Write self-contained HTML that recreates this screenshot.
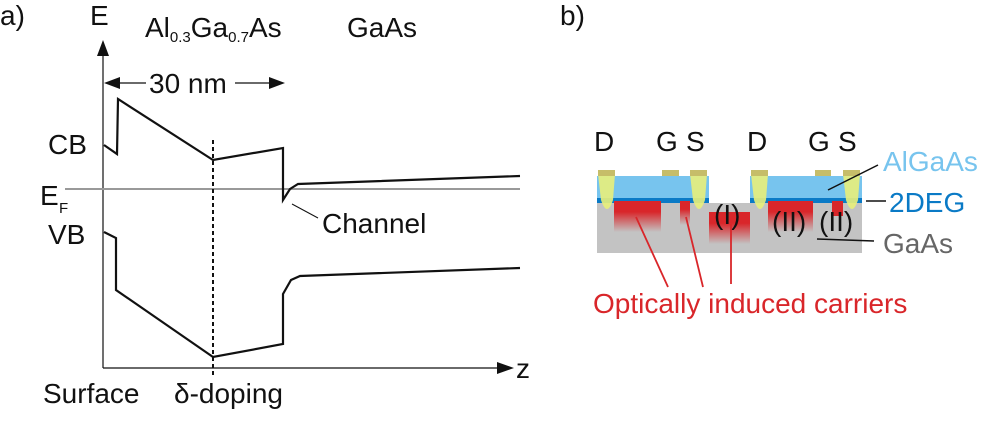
<!DOCTYPE html>
<html><head><meta charset="utf-8"><style>
html,body{margin:0;padding:0;background:#fff;}
svg{display:block;font-family:"Liberation Sans",sans-serif;}
</style></head><body>
<svg width="984" height="436" viewBox="0 0 984 436" xmlns="http://www.w3.org/2000/svg">
<defs>
<linearGradient id="rg" x1="0" y1="0" x2="0" y2="1">
<stop offset="0" stop-color="#d9262a"/><stop offset="0.35" stop-color="#d9262a"/><stop offset="1" stop-color="#d9262a" stop-opacity="0"/>
</linearGradient>
</defs>
<g font-size="28" fill="#111">
<text x="0" y="25">a)</text>
<text x="560" y="25">b)</text>
</g>
<line x1="103" y1="50" x2="103" y2="368" stroke="#111" stroke-width="1.2"/>
<polygon points="103,40 97,56 109,56" fill="#111"/>
<line x1="103" y1="368" x2="502" y2="368" stroke="#111" stroke-width="1.2"/>
<polygon points="514,368 497,362 497,374" fill="#111"/>
<g font-size="28" fill="#111">
<text x="516" y="378">z</text>
<text x="90" y="25">E</text>
<text x="145" y="37">Al<tspan font-size="15" dy="5">0.3</tspan><tspan dy="-5">Ga</tspan><tspan font-size="15" dy="5">0.7</tspan><tspan dy="-5">As</tspan></text>
<text x="347" y="37">GaAs</text>
<text x="149" y="93">30 nm</text>
<text x="48" y="154">CB</text>
<text x="48" y="244">VB</text>
<text x="40" y="205">E</text>
<text x="322" y="233">Channel</text>
<text x="43" y="403">Surface</text>
<text x="174" y="403">δ-doping</text>
</g>
<text x="59" y="213" font-size="15" fill="#111">F</text>
<line x1="112" y1="83" x2="146" y2="83" stroke="#111" stroke-width="1.2"/>
<polygon points="104,83 120,77 120,89" fill="#111"/>
<line x1="235" y1="83" x2="275" y2="83" stroke="#111" stroke-width="1.2"/>
<polygon points="285,83 269,77 269,89" fill="#111"/>
<line x1="65" y1="189" x2="520" y2="189" stroke="#999" stroke-width="2"/>
<polyline points="104,145 117,154 118,99 213,160 283,148 283,200 290,189 298,184 520,176" fill="none" stroke="#111" stroke-width="2.2"/>
<polyline points="104,232 116,238 116,290 213,357 283,344 283,294 291,280 300,276 520,268" fill="none" stroke="#111" stroke-width="2.2"/>
<line x1="213" y1="140" x2="213" y2="375" stroke="#111" stroke-width="2" stroke-dasharray="4,3"/>
<line x1="292" y1="204" x2="318" y2="218" stroke="#111" stroke-width="1"/>
<!-- right panel -->
<rect x="597" y="203" width="265" height="50" fill="#c3c3c3"/>
<rect x="597" y="176" width="112" height="22" fill="#77c4ee"/>
<rect x="750" y="176" width="112" height="22" fill="#77c4ee"/>
<rect x="597" y="198" width="112" height="5" fill="#0a7ac6"/>
<rect x="750" y="198" width="112" height="5" fill="#0a7ac6"/>
<rect x="709" y="212" width="41" height="32" fill="url(#rg)"/>
<rect x="614" y="201" width="47" height="31" fill="url(#rg)"/>
<rect x="680" y="201" width="10" height="24" fill="url(#rg)"/>
<rect x="768" y="201" width="45" height="31" fill="url(#rg)"/>
<rect x="832" y="201" width="11" height="15" fill="#d9262a"/>
<g fill="#e8f07a" fill-opacity="0.9">
<path d="M598,174 L615,174 L613,200 Q607,218 601,200 Z"/>
<path d="M690,174 L707,174 L705,200 Q699,218 693,200 Z"/>
<path d="M751,174 L768,174 L766,200 Q760,218 754,200 Z"/>
<path d="M843,174 L860,174 L858,200 Q852,218 846,200 Z"/>
</g>
<g fill="#c6bd69">
<rect x="598" y="170" width="17" height="6"/><rect x="662" y="170" width="17" height="6"/><rect x="690" y="170" width="17" height="6"/>
<rect x="751" y="170" width="17" height="6"/><rect x="815" y="170" width="16" height="6"/><rect x="843" y="170" width="17" height="6"/>
</g>
<g font-size="28" fill="#111">
<text x="594" y="151">D</text><text x="656" y="151">G</text><text x="686" y="151">S</text>
<text x="747" y="151">D</text><text x="808" y="151">G</text><text x="838" y="151">S</text>
<text x="714" y="224">(I)</text><text x="772" y="231">(II)</text><text x="819" y="231">(II)</text>
</g>
<line x1="828" y1="190" x2="878" y2="165" stroke="#111" stroke-width="1.5"/>
<line x1="866" y1="201" x2="886" y2="201" stroke="#111" stroke-width="1.5"/>
<line x1="817" y1="239" x2="874" y2="241" stroke="#111" stroke-width="1.5"/>
<text x="883" y="171" font-size="28" fill="#77c4ee">AlGaAs</text>
<text x="889" y="212" font-size="28" fill="#0a7ac6">2DEG</text>
<text x="883" y="253" font-size="28" fill="#666">GaAs</text>
<g stroke="#d9262a" stroke-width="1.8">
<line x1="636" y1="217" x2="668" y2="287"/>
<line x1="686" y1="217" x2="703" y2="287"/>
<line x1="731" y1="224" x2="731" y2="284"/>
</g>
<text x="593" y="313" font-size="28" fill="#d9262a">Optically induced carriers</text>
</svg>
</body></html>
